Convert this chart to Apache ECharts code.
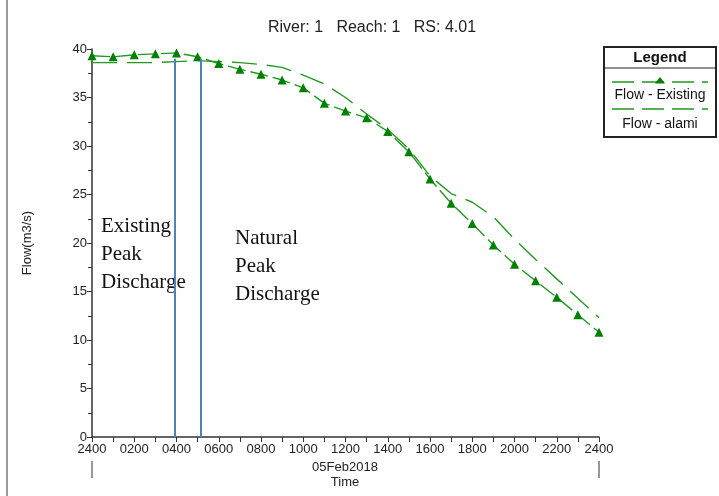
<!DOCTYPE html>
<html>
<head>
<meta charset="utf-8">
<script src="https://cdn.jsdelivr.net/npm/echarts@6/dist/echarts.min.js"></script>
<style>
html,body{margin:0;padding:0;background:#fff;}
#chart{width:719px;height:496px;}
</style>
</head>
<body>
<div id="chart"></div>
<script>
// Hours after 2400 (midnight) on 05Feb2018
var hours = [0,1,2,3,4,5,6,7,8,9,10,11,12,13,14,15,16,17,18,19,20,21,22,23,24];
var flowExisting = [39.3,39.2,39.4,39.5,39.6,39.2,38.5,37.9,37.4,36.8,36.0,34.4,33.6,32.9,31.5,29.4,26.6,24.1,22.0,19.8,17.8,16.1,14.4,12.6,10.8];
var flowAlami = [38.6,38.6,38.6,38.6,38.7,38.8,38.7,38.6,38.4,38.1,37.3,36.4,35.0,33.3,31.7,29.7,26.9,25.1,24.2,22.7,20.4,18.3,16.3,14.3,12.3];
var peakTimes = [3.9, 5.15];
var peakFlowTop = 39.0;
var xTickLabels = ['2400','0200','0400','0600','0800','1000','1200','1400','1600','1800','2000','2200','2400'];
var yTicks = [0,5,10,15,20,25,30,35,40];

var green = '#1e9a1e';
var markerGreen = '#008000';
var blue = '#4f81bd';
var font = '"Liberation Sans", Arial, sans-serif';
var serif = '"Liberation Serif", "Times New Roman", serif';

var chart = echarts.init(document.getElementById('chart'), null, {renderer:'canvas'});

function pairs(vals){ return hours.map(function(h,i){ return [h, vals[i]]; }); }

var option = {
  animation: false,
  backgroundColor: '#fff',
  title: {
    text: 'River: 1   Reach: 1   RS: 4.01',
    left: 367, top: 15, textAlign: 'center',
    textStyle: {fontFamily: font, fontSize: 16, fontWeight: 'normal', color: '#222'}
  },
  grid: {left: 92, right: 120, top: 49, bottom: 59},
  xAxis: {
    type: 'value', min: 0, max: 24, interval: 1,
    axisLine: {lineStyle: {color: '#333', width: 1.5}},
    axisTick: {show: true, length: 5, lineStyle: {color: '#333'}},
    splitLine: {show: false},
    axisLabel: {
      margin: 6, color: '#222', fontFamily: font, fontSize: 13,
      showMinLabel: true, showMaxLabel: true,
      formatter: function(v){ return (v % 2 === 0) ? xTickLabels[v/2] : ''; }
    }
  },
  yAxis: {
    type: 'value', min: 0, max: 40, interval: 5,
    axisLine: {show: true, lineStyle: {color: '#333', width: 1.5}},
    axisTick: {show: true, length: 5, lineStyle: {color: '#333'}},
    minorTick: {show: true, splitNumber: 2, length: 4, lineStyle: {color: '#333'}},
    splitLine: {show: false},
    axisLabel: {margin: 5, color: '#222', fontFamily: font, fontSize: 13,
      formatter: function(v){ return yTicks.indexOf(v) >= 0 ? String(v) : ''; }},
    name: 'Flow(m3/s)', nameLocation: 'middle', nameGap: 58, nameRotate: 90,
    nameTextStyle: {fontFamily: font, fontSize: 13, color: '#222'}
  },
  series: [
    {
      name: 'Flow - alami', type: 'line', data: pairs(flowAlami),
      symbol: 'none', smooth: false,
      lineStyle: {color: green, width: 1.4, type: [25, 10]},
      z: 2
    },
    {
      name: 'Flow - Existing', type: 'line', data: pairs(flowExisting),
      symbol: 'triangle', symbolSize: 9,
      itemStyle: {color: markerGreen},
      lineStyle: {color: green, width: 1.4, type: [18, 5]},
      z: 3,
      markLine: {
        silent: true, symbol: ['none','none'],
        label: {show: false},
        lineStyle: {color: blue, width: 2, type: 'solid'},
        data: peakTimes.map(function(t){ return [{coord: [t, 0]}, {coord: [t, peakFlowTop]}]; })
      }
    }
  ],
  graphic: [
    {type: 'rect', shape: {x: 6, y: 0, width: 2, height: 496}, style: {fill: '#9a9a9a'}},
    {type: 'text', x: 345, y: 467, style: {text: '05Feb2018', fontFamily: font, fontSize: 13, fill: '#222', align: 'center', verticalAlign: 'middle'}},
    {type: 'text', x: 345, y: 482, style: {text: 'Time', fontFamily: font, fontSize: 13, fill: '#222', align: 'center', verticalAlign: 'middle'}},
    {type: 'line', shape: {x1: 92, y1: 461, x2: 92, y2: 478}, style: {stroke: '#333', lineWidth: 1}},
    {type: 'line', shape: {x1: 599, y1: 461, x2: 599, y2: 478}, style: {stroke: '#333', lineWidth: 1}},
    {type: 'text', x: 101, y: 226, style: {text: 'Existing', fontFamily: serif, fontSize: 21, fill: '#111', verticalAlign: 'middle'}},
    {type: 'text', x: 101, y: 254, style: {text: 'Peak', fontFamily: serif, fontSize: 21, fill: '#111', verticalAlign: 'middle'}},
    {type: 'text', x: 101, y: 282, style: {text: 'Discharge', fontFamily: serif, fontSize: 21, fill: '#111', verticalAlign: 'middle'}},
    {type: 'text', x: 235, y: 238, style: {text: 'Natural', fontFamily: serif, fontSize: 21, fill: '#111', verticalAlign: 'middle'}},
    {type: 'text', x: 235, y: 266, style: {text: 'Peak', fontFamily: serif, fontSize: 21, fill: '#111', verticalAlign: 'middle'}},
    {type: 'text', x: 235, y: 294, style: {text: 'Discharge', fontFamily: serif, fontSize: 21, fill: '#111', verticalAlign: 'middle'}},
    {type: 'rect', shape: {x: 604, y: 47, width: 112, height: 90}, style: {fill: '#fff', stroke: '#222', lineWidth: 2}},
    {type: 'line', shape: {x1: 604, y1: 68, x2: 716, y2: 68}, style: {stroke: '#222', lineWidth: 1}},
    {type: 'text', x: 660, y: 58, style: {text: 'Legend', fontFamily: font, fontSize: 15, fontWeight: 'bold', fill: '#111', align: 'center', verticalAlign: 'middle'}},
    {type: 'line', shape: {x1: 612, y1: 82, x2: 708, y2: 82}, style: {stroke: green, lineWidth: 1.4, lineDash: [22, 8]}},
    {type: 'polygon', shape: {points: [[660, 77], [665, 83.5], [655, 83.5]]}, style: {fill: markerGreen}},
    {type: 'text', x: 660, y: 95, style: {text: 'Flow - Existing', fontFamily: font, fontSize: 14, fill: '#111', align: 'center', verticalAlign: 'middle'}},
    {type: 'line', shape: {x1: 612, y1: 109, x2: 708, y2: 109}, style: {stroke: green, lineWidth: 1.4, lineDash: [22, 8]}},
    {type: 'text', x: 660, y: 124, style: {text: 'Flow - alami', fontFamily: font, fontSize: 14, fill: '#111', align: 'center', verticalAlign: 'middle'}}
  ]
};
chart.setOption(option);
</script>
</body>
</html>
